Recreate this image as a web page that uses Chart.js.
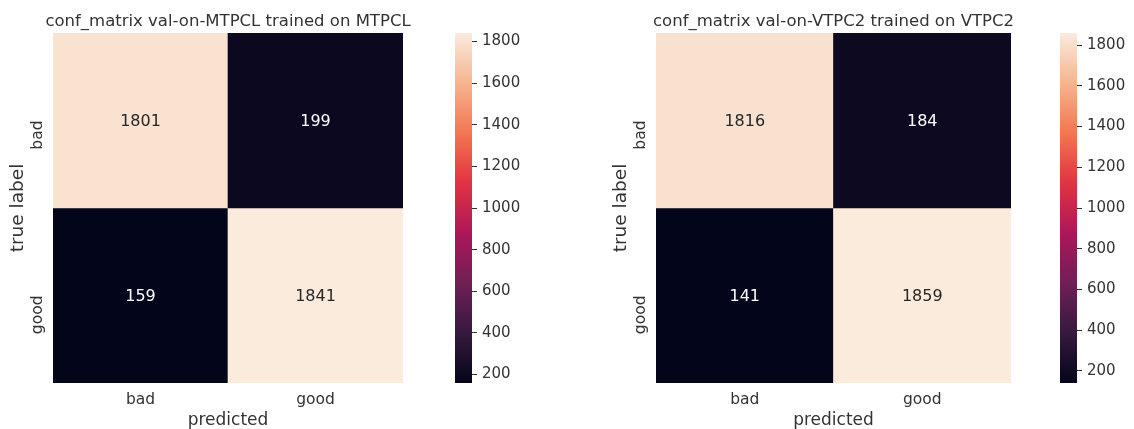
<!DOCTYPE html>
<html>
<head>
<meta charset="utf-8">
<script src="https://cdn.jsdelivr.net/npm/chart.js@4.4.0/dist/chart.umd.min.js"></script>
<style>
  html, body { margin: 0; padding: 0; background: #fff; }
  #wrap { position: relative; width: 1134px; height: 429px; overflow: hidden; }
  canvas { position: absolute; top: 0; }
</style>
</head>
<body>
<div id="wrap">
  <canvas id="hm1" width="456" height="429" style="left:0"></canvas>
  <canvas id="cb1" width="100" height="429" style="left:440px"></canvas>
  <canvas id="hm2" width="461" height="429" style="left:603px"></canvas>
  <canvas id="cb2" width="89" height="429" style="left:1045px"></canvas>
</div>
<script>
// matrices de confusion (lignes = vrai label, colonnes = prédit)
var predLabels = ["bad", "good"];
var trueLabels = ["bad", "good"];
var mtpclRows = [[1801, 199], [159, 1841]];
var vtpc2Rows = [[1816, 184], [141, 1859]];
var cbTicks = [200, 400, 600, 800, 1000, 1200, 1400, 1600, 1800];
// palette "rocket" (seaborn), du plus sombre au plus clair
var rocketStops = ["#03051a", "#35193e", "#701f57", "#ad1759", "#e13342", "#f37651", "#f6b48f", "#faebdd"];

var TXT = "#333333";
Chart.defaults.font.family = "'DejaVu Sans', sans-serif";
Chart.defaults.color = TXT;

function hex(h) { return [1, 3, 5].map(function (i) { return parseInt(h.substr(i, 2), 16); }); }
function rocket(t) {
  t = Math.max(0, Math.min(1, t));
  var n = rocketStops.length - 1, p = t * n, i = Math.min(n - 1, Math.floor(p)), f = p - i;
  var a = hex(rocketStops[i]), b = hex(rocketStops[i + 1]);
  return "rgb(" + a.map(function (v, k) { return Math.round(v + (b[k] - v) * f); }).join(",") + ")";
}
function clair(rgb) {
  var c = rgb.match(/\d+/g).map(Number);
  return (0.299 * c[0] + 0.587 * c[1] + 0.114 * c[2]) / 255 > 0.45;
}
function bornes(rows) {
  var tout = [].concat.apply([], rows);
  return [Math.min.apply(null, tout), Math.max.apply(null, tout)];
}

// valeurs écrites au centre des cases
var annot = {
  id: "annot",
  afterDatasetsDraw: function (chart) {
    var ctx = chart.ctx;
    ctx.save();
    ctx.font = "16px 'DejaVu Sans', sans-serif";
    ctx.textAlign = "center";
    ctx.textBaseline = "middle";
    chart.data.datasets.forEach(function (ds, r) {
      chart.getDatasetMeta(r).data.forEach(function (bar, c) {
        ctx.fillStyle = clair(ds.backgroundColor[c]) ? "#262626" : "#ffffff";
        ctx.fillText(String(ds.valeurs[c]), bar.x, (bar.y + bar.base) / 2 + 1);
      });
    });
    ctx.restore();
  }
};

function heatmap(id, titre, rows) {
  var b = bornes(rows), lo = b[0], hi = b[1];
  var datasets = rows.map(function (row, r) {
    return {
      label: trueLabels[r],
      data: row.map(function () { return 1; }),
      valeurs: row,
      backgroundColor: row.map(function (v) { return rocket((v - lo) / (hi - lo)); }),
      borderWidth: 0, barPercentage: 1, categoryPercentage: 1
    };
  });
  new Chart(document.getElementById(id), {
    type: "bar",
    data: { labels: predLabels, datasets: datasets },
    options: {
      responsive: false, animation: false,
      plugins: {
        legend: { display: false }, tooltip: { enabled: false },
        title: { display: true, text: titre, color: TXT, font: { size: 16.5, weight: "normal" }, padding: { top: 12, bottom: 1.2 } }
      },
      scales: {
        x: {
          stacked: true,
          grid: { display: false, drawTicks: false }, border: { display: false },
          ticks: { font: { size: 15.5 }, padding: 8 },
          title: { display: true, text: "predicted", font: { size: 17 }, padding: { top: 0, bottom: -2 } },
          afterFit: function (s) { s.height = 46; }
        },
        y: {
          stacked: true, min: 0, max: 2, reverse: true,
          grid: { display: false, drawTicks: false }, border: { display: false },
          afterBuildTicks: function (s) { s.ticks = trueLabels.map(function (_, i) { return { value: i + 0.5 }; }); },
          ticks: { minRotation: 90, maxRotation: 90, autoSkip: false, padding: 15, font: { size: 15.5 },
            callback: function (v, i) { return trueLabels[i]; } },
          title: { display: true, text: "true label", font: { size: 18.5 }, padding: { top: 7, bottom: 0 } },
          afterFit: function (s) { s.width = 53; }
        },
        // axe vide à droite, même largeur que celui de gauche : le titre reste centré sur la matrice
        vide: {
          type: "linear", position: "right",
          grid: { display: false }, border: { display: false }, ticks: { display: false },
          afterFit: function (s) { s.width = 53; }
        }
      }
    },
    plugins: [annot]
  });
}

function colorbar(id, rows, largeur) {
  var b = bornes(rows), lo = b[0], hi = b[1];
  new Chart(document.getElementById(id), {
    type: "bar",
    data: {
      labels: [""],
      datasets: [{
        data: [[lo, hi]],
        backgroundColor: function (c) {
          var chart = c.chart;
          if (!chart.chartArea) return rocketStops[0];
          var ys = chart.scales.y;
          var g = chart.ctx.createLinearGradient(0, ys.getPixelForValue(lo), 0, ys.getPixelForValue(hi));
          rocketStops.forEach(function (s, i) { g.addColorStop(i / (rocketStops.length - 1), s); });
          return g;
        },
        borderWidth: 0, barPercentage: 1, categoryPercentage: 1
      }]
    },
    options: {
      responsive: false, animation: false,
      layout: { padding: { top: 33, bottom: 46, left: 15 } },
      plugins: { legend: { display: false }, tooltip: { enabled: false } },
      scales: {
        x: { display: false },
        y: {
          position: "right", min: lo, max: hi,
          afterBuildTicks: function (s) { s.ticks = cbTicks.map(function (v) { return { value: v }; }); },
          grid: { drawOnChartArea: false, tickLength: 5, color: TXT }, border: { display: false },
          ticks: { font: { size: 15 }, padding: 5, callback: function (v) { return String(v); } },
          afterFit: function (s) { s.width = largeur - 15 - 17; }
        }
      }
    }
  });
}

heatmap("hm1", "conf_matrix val-on-MTPCL trained on MTPCL", mtpclRows);
colorbar("cb1", mtpclRows, 100);
heatmap("hm2", "conf_matrix val-on-VTPC2 trained on VTPC2", vtpc2Rows);
colorbar("cb2", vtpc2Rows, 89);
</script>
</body>
</html>
